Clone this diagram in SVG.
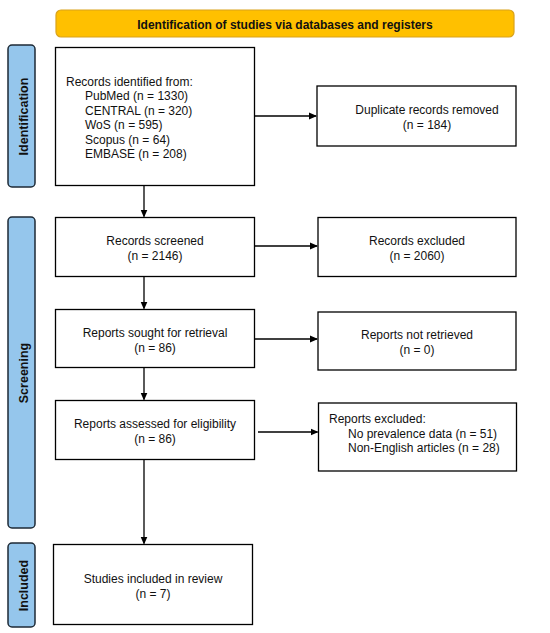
<svg xmlns="http://www.w3.org/2000/svg" width="550" height="633" viewBox="0 0 550 633">
<defs>
<marker id="ah" markerWidth="8" markerHeight="8" refX="7" refY="4" orient="auto" markerUnits="userSpaceOnUse">
<path d="M0,0.5 L8,4 L0,7.5 Z" fill="#000"/>
</marker>
<style>
.box{fill:#fff;stroke:#000;stroke-width:1.3}
.side{fill:#95C6EC;stroke:#1E2A36;stroke-width:1.5}
.ban{fill:#FFC000;stroke:#D9A21B;stroke-width:1.2}
.t{font-family:"Liberation Sans",Arial,sans-serif;font-size:12px;fill:#111}
.s{font-size:12.5px}
.c{text-anchor:middle}
.b{font-weight:bold}
.ln{stroke:#000;stroke-width:1.3;fill:none}
</style>
</defs>
<rect width="550" height="633" fill="#fff"/>
<g id="banner">
<rect class="ban" x="56" y="10" width="458" height="27" rx="5"/>
<text class="t c b" x="285" y="28.5">Identification of studies via databases and registers</text>
</g>
<g id="side-identification">
<rect class="side" x="8" y="45" width="27" height="142" rx="4"/>
<text class="t s c b" transform="translate(27.5,116.5) rotate(-90)">Identification</text>
</g>
<g id="side-screening">
<rect class="side" x="8" y="217" width="27" height="311" rx="4"/>
<text class="t s c b" transform="translate(27.5,373) rotate(-90)">Screening</text>
</g>
<g id="side-included">
<rect class="side" x="8" y="543" width="27" height="84" rx="4"/>
<text class="t s c b" transform="translate(27.5,585.5) rotate(-90)">Included</text>
</g>
<g id="records-identified">
<rect class="box" x="55.5" y="47.5" width="199" height="138"/>
<text class="t" x="66" y="85.5">Records identified from:</text>
<text class="t" x="85" y="100">PubMed (n = 1330)</text>
<text class="t" x="85" y="114.5">CENTRAL (n = 320)</text>
<text class="t" x="85" y="129">WoS (n = 595)</text>
<text class="t" x="85" y="143.5">Scopus (n = 64)</text>
<text class="t" x="85" y="158">EMBASE (n = 208)</text>
</g>
<g id="duplicates">
<rect class="box" x="317" y="86" width="199" height="60"/>
<text class="t c" x="427" y="113.5">Duplicate records removed</text>
<text class="t c" x="427" y="128.5">(n = 184)</text>
</g>
<g id="records-screened">
<rect class="box" x="55.5" y="217.5" width="199" height="59"/>
<text class="t c" x="155" y="244.5">Records screened</text>
<text class="t c" x="155" y="259.5">(n = 2146)</text>
</g>
<g id="records-excluded">
<rect class="box" x="318" y="217.5" width="198" height="59"/>
<text class="t c" x="417" y="244.5">Records excluded</text>
<text class="t c" x="417" y="259.5">(n = 2060)</text>
</g>
<g id="reports-sought">
<rect class="box" x="55.5" y="309.5" width="199" height="58"/>
<text class="t c" x="155" y="336.5">Reports sought for retrieval</text>
<text class="t c" x="155" y="351.5">(n = 86)</text>
</g>
<g id="reports-not-retrieved">
<rect class="box" x="318" y="312" width="198" height="58"/>
<text class="t c" x="417" y="338.5">Reports not retrieved</text>
<text class="t c" x="417" y="353.5">(n = 0)</text>
</g>
<g id="reports-assessed">
<rect class="box" x="55.5" y="400.5" width="199" height="59"/>
<text class="t c" x="155" y="427.5">Reports assessed for eligibility</text>
<text class="t c" x="155" y="442.5">(n = 86)</text>
</g>
<g id="reports-excluded">
<rect class="box" x="318.5" y="403" width="198" height="68"/>
<text class="t" x="329" y="422.5">Reports excluded:</text>
<text class="t" x="348" y="437.5">No prevalence data (n = 51)</text>
<text class="t" x="348" y="451.5">Non-English articles (n = 28)</text>
</g>
<g id="studies-included">
<rect class="box" x="53.5" y="544.5" width="199" height="80"/>
<text class="t c" x="153" y="582.5">Studies included in review</text>
<text class="t c" x="153" y="597.5">(n = 7)</text>
</g>
<g id="connectors">
<line class="ln" x1="254.5" y1="116" x2="316" y2="116" marker-end="url(#ah)"/>
<line class="ln" x1="144" y1="185.5" x2="144" y2="216.5" marker-end="url(#ah)"/>
<line class="ln" x1="254.5" y1="246" x2="317" y2="246" marker-end="url(#ah)"/>
<line class="ln" x1="144" y1="276.5" x2="144" y2="308.5" marker-end="url(#ah)"/>
<line class="ln" x1="254.5" y1="339" x2="317" y2="339" marker-end="url(#ah)"/>
<line class="ln" x1="144" y1="367.5" x2="144" y2="399.5" marker-end="url(#ah)"/>
<line class="ln" x1="258" y1="432" x2="317.5" y2="432" marker-end="url(#ah)"/>
<line class="ln" x1="144" y1="459.5" x2="144" y2="543.5" marker-end="url(#ah)"/>
</g>
</svg>
